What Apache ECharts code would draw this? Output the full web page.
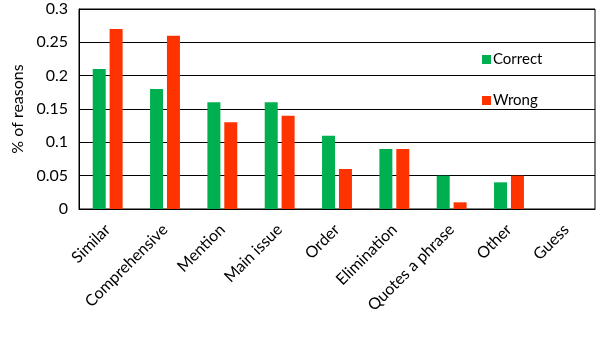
<!DOCTYPE html>
<html>
<head>
<meta charset="utf-8">
<script src="https://cdn.jsdelivr.net/npm/echarts@6/dist/echarts.min.js"></script>
<style>
html,body{margin:0;padding:0;background:#fff;}
#chart{width:596px;height:350px;}
</style>
</head>
<body>
<div id="chart"></div>
<script>
const categories = ['Similar','Comprehensive','Mention','Main issue','Order','Elimination','Quotes a phrase','Other','Guess'];
const correct = [0.21,0.18,0.16,0.16,0.11,0.09,0.05,0.04,0];
const wrong = [0.27,0.26,0.13,0.14,0.06,0.09,0.01,0.05,0];
const yTicks = [0,0.05,0.1,0.15,0.2,0.25,0.3];

const chart = echarts.init(document.getElementById('chart'));
const font = 'Lato';
chart.setOption({
  animation:false,
  grid:{left:79,top:9,right:1,bottom:141,show:true,borderColor:'#000',borderWidth:1},
  legend:{
    orient:'vertical', left:477, top:47, itemGap:26,
    itemWidth:9, itemHeight:9, icon:'rect',
    textStyle:{fontFamily:font,fontSize:15,color:'#000',padding:[0,0,0,-3]},
    data:['Correct','Wrong']
  },
  xAxis:{
    type:'category', data:categories,
    axisTick:{show:false},
    axisLine:{lineStyle:{color:'#000'}},
    axisLabel:{rotate:45,fontFamily:font,fontSize:16,color:'#000',margin:18,interval:0}
  },
  yAxis:{
    type:'value', min:0, max:0.3, interval:0.05,
    name:'% of reasons', nameLocation:'middle', nameGap:46,
    nameTextStyle:{fontFamily:font,fontSize:16,color:'#000'},
    axisLine:{show:true,lineStyle:{color:'#000'}},
    axisTick:{show:false},
    splitLine:{lineStyle:{color:'#000',width:1}},
    axisLabel:{fontFamily:font,fontSize:16,color:'#000',margin:11,
      formatter:v=>{const t=yTicks.find(x=>Math.abs(x-v)<1e-9);return t===undefined?'':String(t);}}
  },
  series:[
    {name:'Correct',type:'bar',data:correct,barWidth:13,barGap:'30%',itemStyle:{color:'#00B050'}},
    {name:'Wrong',type:'bar',data:wrong,barWidth:13,itemStyle:{color:'#FF3300'}}
  ],
  graphic:[{
    type:'text', x:1, y:349,
    style:{text:'Figure 3:  The distribution of reasons for the answers',fontFamily:'Liberation Serif',fontSize:29,fill:'#000',verticalAlign:'top',align:'left'}
  }]
});
</script>
</body>
</html>
